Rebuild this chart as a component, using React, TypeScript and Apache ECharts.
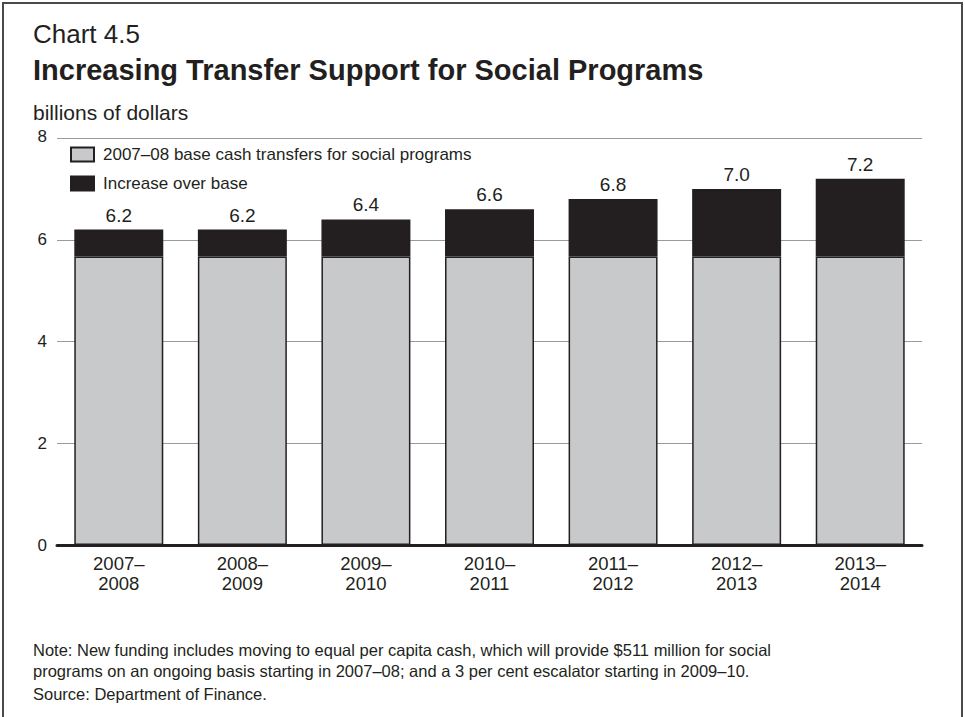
import React, { useEffect, useRef } from "react";
import * as echarts from "echarts";

const categories = ["2007–\n2008", "2008–\n2009", "2009–\n2010", "2010–\n2011", "2011–\n2012", "2012–\n2013", "2013–\n2014"];
const baseValues = [5.67, 5.67, 5.67, 5.67, 5.67, 5.67, 5.67];
const totalValues = [6.2, 6.2, 6.4, 6.6, 6.8, 7.0, 7.2];
const increaseValues = totalValues.map((t, i) => +(t - baseValues[i]).toFixed(2));
const seriesNames = ["2007–08 base cash transfers for social programs", "Increase over base"];

const INK = "#231f20";
const FONT = "'Liberation Sans', Arial, Helvetica, sans-serif";

export default function App() {
  const ref = useRef<HTMLDivElement>(null);
  useEffect(() => {
    const chart = echarts.init(ref.current!, null, { renderer: "svg" });
    chart.setOption({
      animation: false,
      backgroundColor: "#ffffff",
      textStyle: { fontFamily: FONT, color: INK },
      grid: { left: 57, right: 43, top: 138, bottom: 172, containLabel: false },
      legend: {
        orient: "vertical",
        left: 70,
        top: 146,
        padding: 0,
        itemWidth: 23,
        itemHeight: 14,
        itemGap: 12,
        icon: "rect",
        textStyle: { fontSize: 17, color: INK, fontFamily: FONT, padding: [0, 0, 0, 4] },
        data: seriesNames,
      },
      xAxis: {
        type: "category",
        data: categories,
        axisLine: { lineStyle: { color: INK, width: 3 } },
        axisTick: { show: false },
        axisLabel: { fontSize: 18.5, color: INK, lineHeight: 20, margin: 8, fontFamily: FONT },
      },
      yAxis: {
        type: "value",
        min: 0,
        max: 8,
        interval: 2,
        axisLine: { show: false },
        axisTick: { show: false },
        axisLabel: {
          fontSize: 17,
          color: INK,
          margin: 10,
          fontFamily: FONT,
          formatter: (v: number) => (v === 8 ? "{up|8}" : String(v)),
          rich: { up: { fontSize: 17, color: INK, fontFamily: FONT, padding: [0, 0, 4, 0] } },
        },
        splitLine: { lineStyle: { color: "#9a9a9a", width: 1 } },
      },
      series: [
        {
          name: seriesNames[0],
          type: "bar",
          stack: "total",
          barCategoryGap: "28%",
          data: baseValues,
          itemStyle: { color: "#c8c9cb", borderColor: INK, borderWidth: 1.5 },
        },
        {
          name: seriesNames[1],
          type: "bar",
          stack: "total",
          barCategoryGap: "28%",
          data: increaseValues,
          itemStyle: { color: INK, borderColor: INK, borderWidth: 1.5 },
          label: {
            show: true,
            position: "top",
            distance: 5,
            fontSize: 19,
            color: INK,
            fontFamily: FONT,
            formatter: (p: any) => totalValues[p.dataIndex].toFixed(1),
          },
        },
      ],
      graphic: [
        { type: "rect", shape: { x: 3, y: 3, width: 959, height: 718 }, style: { fill: "none", stroke: "#4a4a4a", lineWidth: 2 }, z: 100 },
        { type: "text", left: 33, top: 21, style: { text: "Chart 4.5", font: `26px ${FONT}`, fill: INK } },
        { type: "text", left: 33, top: 55, style: { text: "Increasing Transfer Support for Social Programs", font: `bold 29px ${FONT}`, fill: INK } },
        { type: "text", left: 33, top: 102, style: { text: "billions of dollars", font: `21px ${FONT}`, fill: INK } },
        { type: "text", left: 33, top: 641, style: { text: "Note: New funding includes moving to equal per capita cash, which will provide $511 million for social", font: `16.5px ${FONT}`, fill: INK } },
        { type: "text", left: 33, top: 662, style: { text: "programs on an ongoing basis starting in 2007–08; and a 3 per cent escalator starting in 2009–10.", font: `16.5px ${FONT}`, fill: INK } },
        { type: "text", left: 33, top: 685, style: { text: "Source: Department of Finance.", font: `16.5px ${FONT}`, fill: INK } },
      ],
    });
    return () => chart.dispose();
  }, []);
  return <div ref={ref} style={{ position: "absolute", left: 0, top: 0, width: 965, height: 717 }} />;
}
